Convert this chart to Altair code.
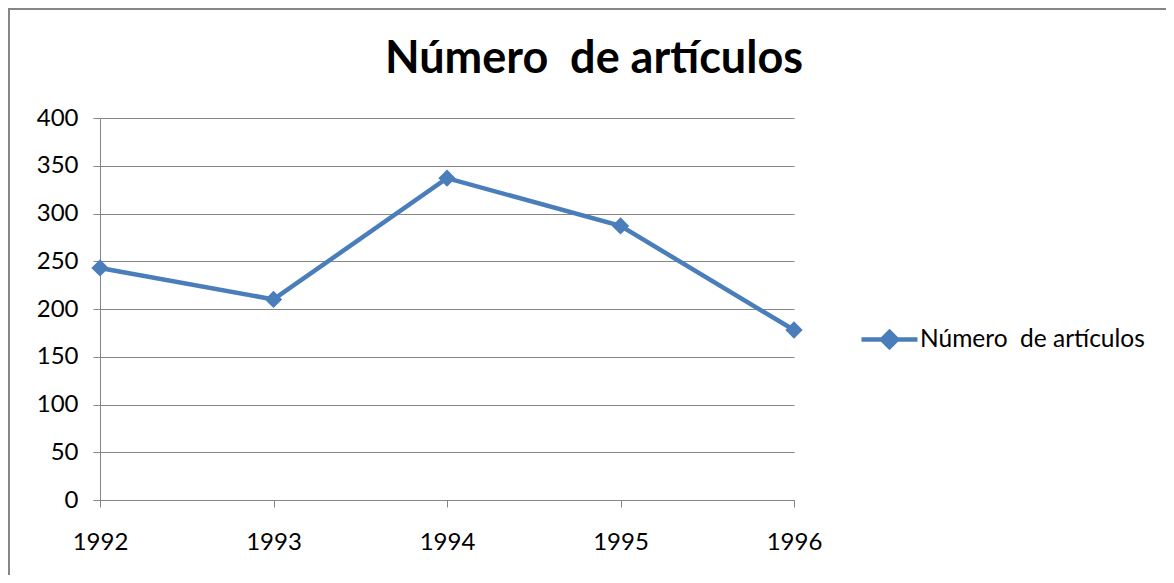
import altair as alt
import pandas as pd

years = ["1992", "1993", "1994", "1995", "1996"]
values = [243, 210, 337, 287, 178]
series_name = "Número\u00a0 de artículos"
title_text = "Número\u00a0 de artículos"
y_ticks = [0, 50, 100, 150, 200, 250, 300, 350, 400]

df = pd.DataFrame({"year": years, "value": values, "series": [series_name] * len(years)})

blue = "#4A7EBB"
grey = "#868686"
FONT = "Lato"

line = alt.Chart(df).mark_line(
    strokeWidth=4.5,
    point=alt.OverlayMarkDef(shape="diamond", size=300, filled=True),
).encode(
    x=alt.X("year:O", scale=alt.Scale(type="point", padding=0),
            axis=alt.Axis(title=None, labelAngle=0, grid=False, domainColor=grey,
                          tickColor=grey, tickSize=7, labelPadding=23, labelFont=FONT,
                          labelFontSize=24, labelColor="#000000")),
    y=alt.Y("value:Q", scale=alt.Scale(domain=[0, 400]),
            axis=alt.Axis(title=None, values=y_ticks, grid=True, gridColor=grey,
                          domainColor=grey, tickColor=grey, tickSize=7, labelPadding=15,
                          labelFont=FONT, labelFontSize=24, labelColor="#000000")),
    color=alt.Color("series:N", scale=alt.Scale(range=[blue]),
                    legend=alt.Legend(title=None, orient="none", legendX=759, legendY=191,
                                      symbolType="M-1,0L1,0M0,-0.27L0.27,0L0,0.27L-0.27,0Z",
                                      symbolSize=3136, symbolStrokeWidth=4.5,
                                      symbolFillColor=blue, symbolStrokeColor=blue,
                                      labelFont=FONT, labelFontSize=24.5, labelColor="#000000",
                                      labelOffset=0, labelLimit=400, padding=0)),
)

border_left = alt.Chart(alt.Data(values=[{}])).mark_rule(color=grey, strokeWidth=2).encode(
    x=alt.value(-91), y=alt.value(-110), y2=alt.value(457))
border_top = alt.Chart(alt.Data(values=[{}])).mark_rule(color=grey, strokeWidth=2).encode(
    x=alt.value(-92), x2=alt.value(1066), y=alt.value(-109))

chart = alt.layer(border_left, border_top, line).properties(
    width=694, height=382,
    padding={"left": 92, "top": 110, "right": 372, "bottom": 75},
    autosize=alt.AutoSizeParams(type="none"),
    title=alt.TitleParams(text=title_text, font=FONT, fontSize=45, fontWeight="bold",
                          color="#000000", anchor="middle", dx=147, offset=-75),
    background="white",
).configure_view(stroke="transparent")

chart.save("out.html", embed_options={"renderer": "svg", "actions": False})
